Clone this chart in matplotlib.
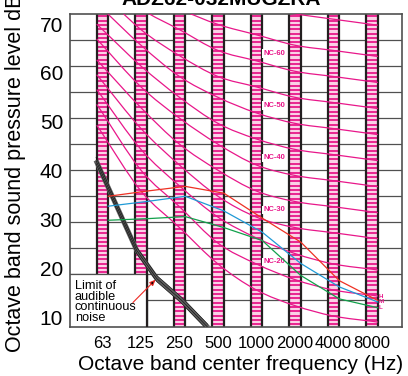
import numpy as np
import matplotlib
matplotlib.use('Agg')
import matplotlib.pyplot as plt
from matplotlib.path import Path
from matplotlib.patches import PathPatch, Rectangle

plt.rcParams['font.family'] = ['Liberation Sans', 'DejaVu Sans']

# octave bands (x position = band index)
freqs = ['63', '125', '250', '500', '1000', '2000', '4000', '8000']

# NC curves (dB per octave band)
nc_levels = [15, 20, 25, 30, 35, 40, 45, 50, 55, 60, 65, 70]
nc_values = [
    [47, 36, 29, 22, 17, 14, 12, 11],
    [51, 40, 33, 26, 22, 19, 17, 16],
    [54, 44, 37, 31, 27, 24, 22, 21],
    [57, 48, 41, 35, 31, 29, 28, 27],
    [60, 52, 45, 40, 36, 34, 33, 32],
    [64, 56, 50, 45, 41, 39, 38, 37],
    [67, 60, 54, 49, 46, 44, 43, 42],
    [71, 64, 58, 54, 51, 49, 48, 47],
    [74, 67, 62, 58, 56, 54, 53, 52],
    [77, 71, 67, 63, 61, 59, 58, 57],
    [80, 75, 71, 68, 66, 64, 63, 62],
    [83, 79, 75, 72, 71, 70, 69, 68],
]
nc_labelled = [20, 30, 40, 50, 60]

# unit sound levels (H / M / L fan speed)
level_H = [35.0, 36.0, 36.9, 35.6, 30.8, 26.2, 18.8, 15.0]
level_M = [33.1, 34.0, 35.0, 32.2, 28.1, 22.1, 17.6, 14.7]
level_L = [30.4, 30.7, 31.1, 29.0, 26.5, 19.8, 15.3, 13.6]

# limit of audible continuous noise (band index, dB)
limit_x = [-0.17, 0.89, 1.41, 2.06, 2.74]
limit_y = [41.9, 24.6, 19.2, 15.0, 9.8]

MAG = '#e8178a'

def smooth_path(xs, ys, ext=0.15):
    # catmull-rom through the points, drawn as cubic bezier segments
    P = np.column_stack([xs, ys]).astype(float)
    n = len(P)
    verts = [P[0] - ext * (P[1] - P[0]), P[0]]
    codes = [Path.MOVETO, Path.LINETO]
    for i in range(n - 1):
        p0 = P[i - 1] if i > 0 else P[i]
        p3 = P[i + 2] if i + 2 < n else P[i + 1]
        c1 = P[i] + (P[i + 1] - p0) / 6
        c2 = P[i + 1] - (p3 - P[i]) / 6
        verts += [c1, c2, P[i + 1]]
        codes += [Path.CURVE4] * 3
    verts.append(P[-1] + ext * (P[-1] - P[-2]))
    codes.append(Path.LINETO)
    return Path(verts, codes)

fig = plt.figure(figsize=(4.08, 3.76), dpi=100)
ax = fig.add_axes([70 / 408, 1 - 326.5 / 376, 331.7 / 408, 312.5 / 376])
ax.set_xlim(-0.844, 7.771)
ax.set_ylim(10, 70)

# grid lines every 5 dB
ax.set_yticks(np.arange(15, 70, 5))
ax.tick_params(axis='y', length=0, labelleft=False)
ax.yaxis.grid(True, color='#505050', lw=0.9, zorder=1)
ax.set_axisbelow(True)
for s in ax.spines.values():
    s.set_color('#505050')
    s.set_linewidth(1.2)

# hatched band columns
half = 0.15
stripes = np.arange(10.4, 70, 5 / 6)
for i in range(len(freqs)):
    ax.add_patch(Rectangle((i - half, 10), 2 * half, 60, fc='#fbd0e6', ec='none', zorder=1.5))
    ax.hlines(stripes, i - half, i + half, color=MAG, lw=1.3, zorder=1.6)
    ax.axvline(i - half, color='#231f20', lw=1.6, zorder=2)
    ax.axvline(i + half, color='#231f20', lw=1.6, zorder=2)

# NC curves
for lvl, vals in zip(nc_levels, nc_values):
    ax.add_patch(PathPatch(smooth_path(range(len(freqs)), vals), fill=False,
                           ec=MAG, lw=0.9, zorder=3))
    if lvl in nc_labelled:
        ax.text(4.17, lvl + 2.4, 'NC-%d' % lvl, color=MAG, fontsize=5.5, fontweight='bold',
                ha='left', va='center', zorder=4,
                bbox=dict(fc='white', ec='none', pad=0.5))

# box for the limit note
ax.add_patch(Rectangle((-0.844, 10), 0.844 + 1 + half, 10, fc='white', ec='none', zorder=2.5))
ax.plot([-0.844, 1 + half], [20, 20], color='#505050', lw=0.9, zorder=2.6)
ax.plot([1 + half, 1 + half], [10, 20], color='#231f20', lw=1.6, zorder=2.6)
ax.text(-0.72, 19.0, 'Limit of\naudible\ncontinuous\nnoise', fontsize=9.2, linespacing=0.88,
        ha='left', va='top', zorder=5)

# limit band
ax.plot(limit_x, limit_y, color='#5c5c5c', lw=3.6, solid_capstyle='butt', zorder=4)
for off in (-0.6, 0.0, 0.6):
    ax.plot(limit_x, np.array(limit_y) + off, color='black', lw=0.35, zorder=4.1)
ax.annotate('', xy=(1.38, 19.0), xytext=(0.79, 14.6),
            arrowprops=dict(arrowstyle='-|>,head_length=0.35,head_width=0.15',
                            ec='#ee2a24', fc='black', lw=0.8, shrinkA=0, shrinkB=0),
            zorder=5)

# unit levels
xd = np.arange(len(freqs)) + 0.15
ax.plot(xd, level_H, color='#ee3124', lw=0.9, zorder=5)
ax.plot(xd, level_M, color='#1f9ad6', lw=0.9, zorder=5)
ax.plot(xd, level_L, color='#12a04b', lw=0.9, zorder=5)
for lab, yy in zip(['H', 'M', 'L'], [15.8, 14.8, 13.7]):
    ax.text(7.18, yy, lab, color=MAG, fontsize=4.5, fontweight='bold', ha='left', va='center', zorder=6)

# x ticks
ax.set_xticks(range(len(freqs)))
ax.set_xticklabels(freqs, fontsize=12)
ax.tick_params(axis='x', length=0, pad=7)

# y labels are on a slightly different scale from the chart grid
to_lab = lambda c: 10 + (c - 11.8) / 0.938
to_chart = lambda l: 11.8 + 0.938 * (l - 10)
sec = ax.secondary_yaxis('left', functions=(to_lab, to_chart))
sec.set_yticks(range(10, 71, 10))
sec.tick_params(length=0, labelsize=15, pad=5)
sec.spines['left'].set_visible(False)

fig.text(241 / 408, 1 - 365 / 376, 'Octave band center frequency (Hz)', fontsize=15,
         ha='center', va='center')
fig.text(16 / 408, 1 - 352 / 376, 'Octave band sound pressure level dB', fontsize=15.5,
         rotation=90, ha='center', va='bottom')
fig.text(221 / 408, 1 - 5 / 376, 'ADZ62-032MUGZRA', fontsize=15, fontweight='bold',
         ha='center', va='baseline')

fig.savefig('out.png', dpi=100)
